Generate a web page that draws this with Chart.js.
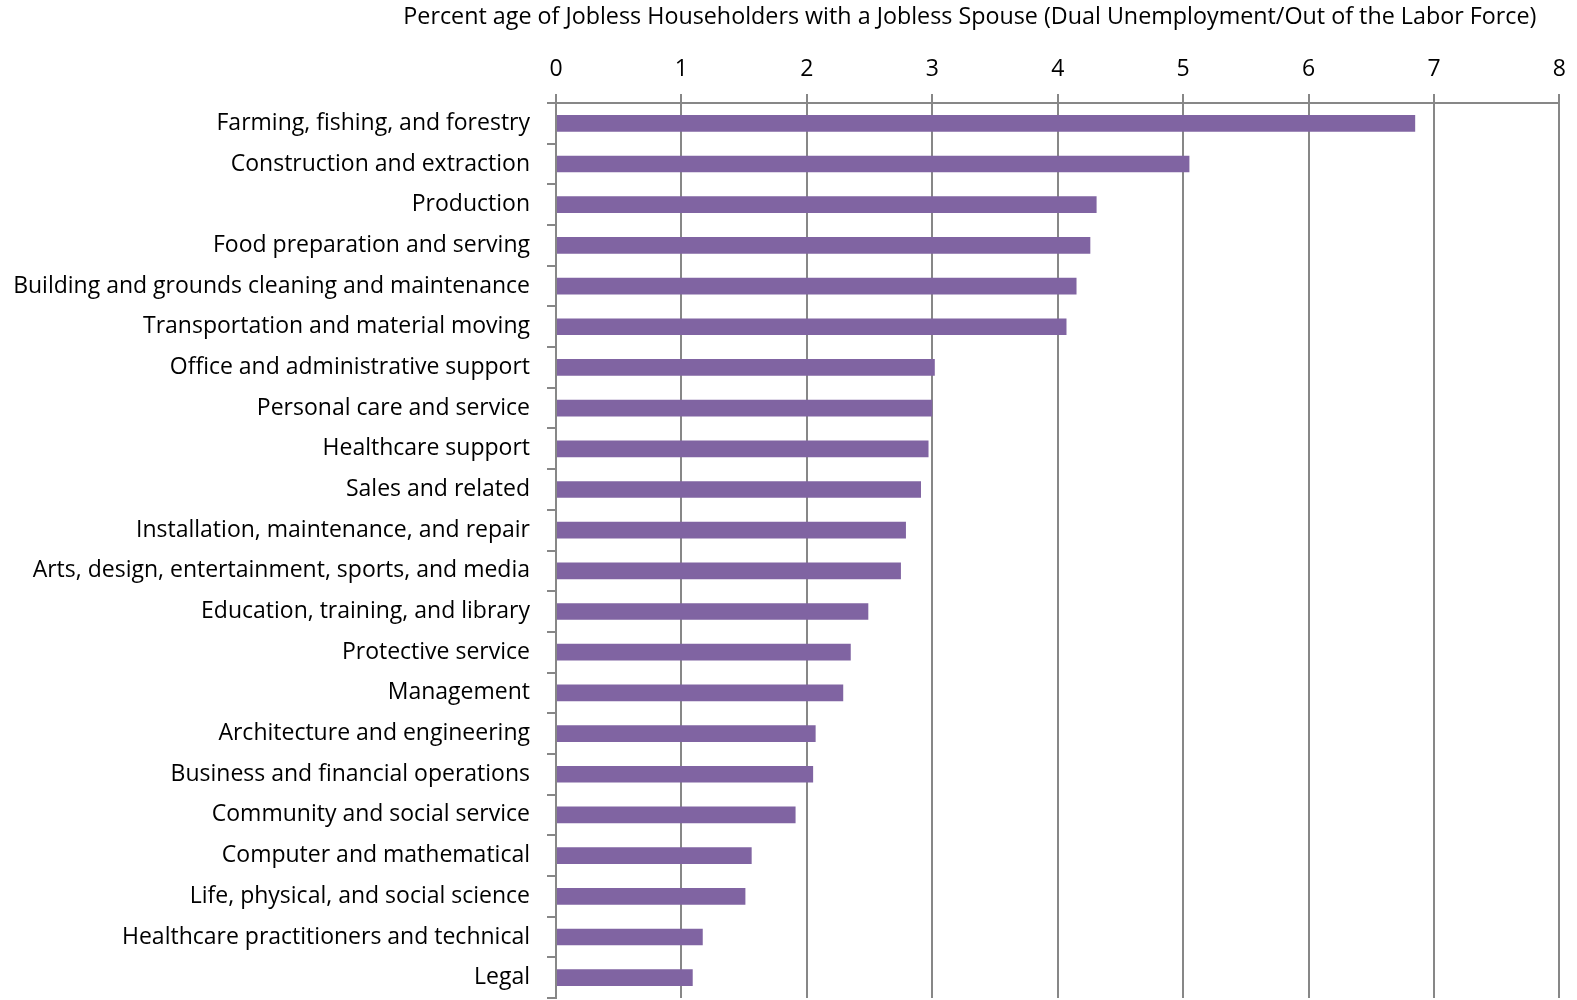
<!DOCTYPE html>
<html>
<head>
<meta charset="utf-8">
<script src="https://cdn.jsdelivr.net/npm/chart.js@4/dist/chart.umd.min.js"></script>
<style>
  html, body { margin: 0; padding: 0; background: #fff; }
  #wrap { width: 1577px; height: 1000px; position: relative; }
</style>
</head>
<body>
<div id="wrap"><canvas id="jobless"></canvas></div>
<script>
// occupation groups, listed top to bottom
const occupations = [
  'Farming, fishing, and forestry',
  'Construction and extraction',
  'Production',
  'Food preparation and serving',
  'Building and grounds cleaning and maintenance',
  'Transportation and material moving',
  'Office and administrative support',
  'Personal care and service',
  'Healthcare support',
  'Sales and related',
  'Installation, maintenance, and repair',
  'Arts, design, entertainment, sports, and media',
  'Education, training, and library',
  'Protective service',
  'Management',
  'Architecture and engineering',
  'Business and financial operations',
  'Community and social service',
  'Computer and mathematical',
  'Life, physical, and social science',
  'Healthcare practitioners and technical',
  'Legal',
];

// percent of jobless householders whose spouse is also jobless
const dualJobless = [
  6.85, 5.05, 4.31, 4.26, 4.15, 4.07, 3.02, 3.00, 2.97, 2.91, 2.79,
  2.75, 2.49, 2.35, 2.29, 2.07, 2.05, 1.91, 1.56, 1.51, 1.17, 1.09,
];

const xTicks = [0, 1, 2, 3, 4, 5, 6, 7, 8];
const chartTitle = 'Percent age of Jobless Householders with a Jobless Spouse (Dual Unemployment/Out of the Labor Force)';

const FONT = '"Open Sans", "Noto Sans", sans-serif';
const AXIS_GRAY = '#878787';

// title sits over the plot, ending a little short of the right edge
const titlePlugin = {
  id: 'topTitle',
  afterDraw(chart) {
    const { ctx, chartArea } = chart;
    ctx.save();
    ctx.font = '23.3px ' + FONT;
    ctx.fillStyle = '#000';
    ctx.textAlign = 'right';
    ctx.textBaseline = 'middle';
    ctx.fillText(chartTitle, chartArea.right - 23, 17);
    ctx.restore();
  }
};

new Chart(document.getElementById('jobless'), {
  type: 'bar',
  data: {
    labels: occupations,
    datasets: [{
      data: dualJobless,
      backgroundColor: '#8064a2',
      borderWidth: 0,
      barPercentage: 0.41,
      categoryPercentage: 1,
    }]
  },
  options: {
    indexAxis: 'y',
    responsive: true,
    maintainAspectRatio: false,
    animation: false,
    layout: { padding: { top: 0, right: 15, bottom: 2, left: 0 } },
    plugins: {
      legend: { display: false },
      tooltip: { enabled: false },
    },
    scales: {
      x: {
        position: 'top',
        min: xTicks[0],
        max: xTicks[xTicks.length - 1],
        afterBuildTicks: s => { s.ticks = xTicks.map(v => ({ value: v })); },
        afterFit: s => { s.height = 103; },
        ticks: { color: '#000', font: { family: FONT, size: 23 }, padding: 11 },
        grid: { color: AXIS_GRAY, lineWidth: 2, tickLength: 9 },
        border: { color: AXIS_GRAY, width: 2 },
      },
      y: {
        // fixed gutter for the labels, and no extra space below the last bar
        afterFit: s => { s.width = 556; s.paddingTop = 0; s.paddingBottom = 0; },
        ticks: { color: '#000', font: { family: FONT, size: 23 }, padding: 17 },
        grid: { color: AXIS_GRAY, lineWidth: 2, tickLength: 9, drawOnChartArea: false, offset: true },
        border: { color: AXIS_GRAY, width: 2 },
      }
    }
  },
  plugins: [titlePlugin]
});
</script>
</body>
</html>
